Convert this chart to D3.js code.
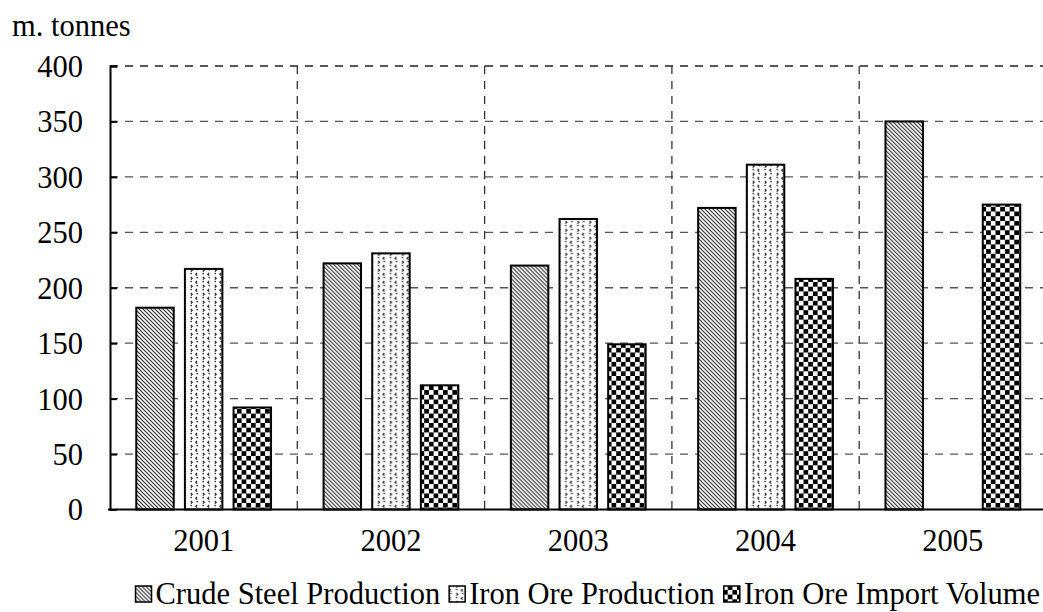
<!DOCTYPE html>
<html>
<head>
<meta charset="utf-8">
<script src="https://cdn.jsdelivr.net/npm/d3@7"></script>
<style>
  html, body { margin: 0; padding: 0; background: #fff; }
  svg { display: block; }
  svg text { font-family: "Liberation Serif", "Times New Roman", serif; }
</style>
</head>
<body>
<svg id="chart" width="1043" height="612"></svg>
<script>
// ---- data ----
const years = ["2001", "2002", "2003", "2004", "2005"];
const seriesNames = ["Crude Steel Production", "Iron Ore Production", "Iron Ore Import Volume"];
const crudeSteel = [182, 222, 220, 272, 350];
const ironOreProduction = [217, 231, 262, 311, null];
const ironOreImport = [92, 112, 149, 208, 275];
const yTicks = [0, 50, 100, 150, 200, 250, 300, 350, 400];
const yLabel = "m. tonnes";

const seriesValues = [crudeSteel, ironOreProduction, ironOreImport];
const patternIds = ["pHatch", "pDots", "pCheck"];

const W = 1043, H = 612;
const FS = 30.5;
const margin = { left: 110, top: 66, bottom: 509.5, right: 1046.5 };
const svg = d3.select("#chart");

// ---- patterns ----
const defs = svg.append("defs");
const ph = defs.append("pattern").attr("id", "pHatch").attr("patternUnits", "userSpaceOnUse")
  .attr("width", 4).attr("height", 4);
ph.append("rect").attr("width", 4).attr("height", 4).attr("fill", "#fff");
ph.append("path").attr("d", "M-1,-1L5,5M3,-1L5,1M-1,3L1,5").attr("stroke", "#2a2a2a").attr("stroke-width", 1.1);

const pd = defs.append("pattern").attr("id", "pDots").attr("patternUnits", "userSpaceOnUse")
  .attr("width", 12).attr("height", 8);
pd.append("rect").attr("width", 12).attr("height", 8).attr("fill", "#fff");
pd.append("path").attr("d", "M3.2,0.8L1.8,2.2L3.2,3.6 M8.8,4.8L10.2,6.2L8.8,7.6 M8.6,0.9L9.8,2.1 M2.6,5L3.8,6.2")
  .attr("stroke", "#222").attr("stroke-width", 1.2).attr("fill", "none");

const pc = defs.append("pattern").attr("id", "pCheck").attr("patternUnits", "userSpaceOnUse")
  .attr("width", 9.4).attr("height", 9.4);
pc.append("rect").attr("width", 9.4).attr("height", 9.4).attr("fill", "#fff");
pc.append("rect").attr("x", 0).attr("y", 0).attr("width", 4.7).attr("height", 4.7).attr("fill", "#000");
pc.append("rect").attr("x", 4.7).attr("y", 4.7).attr("width", 4.7).attr("height", 4.7).attr("fill", "#000");

// ---- scales ----
const x0 = d3.scaleBand().domain(years).range([margin.left, margin.right]).padding(0);
const x1 = d3.scaleBand().domain(d3.range(seriesNames.length)).range([0, x0.bandwidth()])
  .paddingInner(0.23).paddingOuter(0.54);
const y = d3.scaleLinear().domain([0, 400]).range([margin.bottom, margin.top]);

// ---- grid ----
const grid = svg.append("g");
grid.selectAll("line.h").data(yTicks.filter(d => d > 0)).enter().append("line")
  .attr("x1", margin.left).attr("x2", margin.right)
  .attr("y1", d => y(d)).attr("y2", d => y(d))
  .attr("stroke", d => d === 400 ? "#222" : "#555").attr("stroke-width", 1.3)
  .attr("stroke-dasharray", "8,7");
grid.selectAll("line.v").data(years.slice(0, -1)).enter().append("line")
  .attr("x1", d => x0(d) + x0.bandwidth()).attr("x2", d => x0(d) + x0.bandwidth())
  .attr("y1", margin.top).attr("y2", margin.bottom)
  .attr("stroke", "#333").attr("stroke-width", 1.3)
  .attr("stroke-dasharray", "8,7");

// ---- bars ----
const groups = svg.append("g").selectAll("g").data(years).enter().append("g")
  .attr("transform", d => `translate(${x0(d)},0)`);
groups.selectAll("rect")
  .data((yr, i) => seriesValues.map((vals, s) => ({ s, v: vals[i] })).filter(d => d.v != null))
  .enter().append("rect")
  .attr("x", d => x1(d.s)).attr("width", x1.bandwidth())
  .attr("y", d => y(d.v)).attr("height", d => y(0) - y(d.v))
  .attr("fill", d => `url(#${patternIds[d.s]})`)
  .attr("stroke", "#000").attr("stroke-width", 2);

// ---- axes ----
const yAxis = svg.append("g").attr("transform", `translate(${margin.left},0)`)
  .call(d3.axisLeft(y).tickValues(yTicks).tickSize(-7).tickPadding(27).tickFormat(d3.format("d")));
yAxis.attr("font-family", null).attr("font-size", null);
yAxis.select(".domain").attr("stroke", "#000").attr("stroke-width", 2);
yAxis.selectAll(".tick line").attr("stroke", "#000").attr("stroke-width", 2);
yAxis.selectAll(".tick text").attr("font-size", FS).attr("fill", "#000").attr("dy", "0.34em");

svg.append("line").attr("x1", margin.left - 2).attr("x2", W).attr("y1", y(0)).attr("y2", y(0))
  .attr("stroke", "#000").attr("stroke-width", 2);

const xAxis = svg.append("g").attr("transform", `translate(0,${margin.bottom})`)
  .call(d3.axisBottom(x0).tickSize(0).tickPadding(20));
xAxis.attr("font-family", null).attr("font-size", null);
xAxis.select(".domain").remove();
xAxis.selectAll(".tick text").attr("font-size", FS).attr("fill", "#000");

svg.append("text").attr("x", 12).attr("y", 36).attr("font-size", FS).text(yLabel);

// ---- legend ----
const legend = svg.append("g");
let lx = 0;
seriesNames.forEach((name, i) => {
  const g = legend.append("g");
  g.append("rect").attr("x", lx).attr("y", -18).attr("width", 16).attr("height", 16)
    .attr("fill", `url(#${patternIds[i]})`).attr("stroke", "#000").attr("stroke-width", 1.5);
  const t = g.append("text").attr("x", lx + 20).attr("y", 0).attr("font-size", FS).text(name);
  lx += 20 + t.node().getComputedTextLength() + 9;
});
const legendWidth = lx - 9;
legend.attr("transform", `translate(${1040 - legendWidth},604)`);
</script>
</body>
</html>
